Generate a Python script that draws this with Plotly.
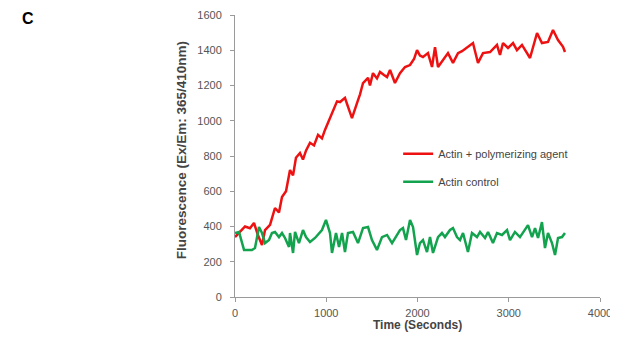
import plotly.graph_objects as go

# Actin + polymerizing agent (time in s, fluorescence)
red_t = [0, 55, 110, 164, 208, 252, 296, 329, 384, 438, 482, 515, 559, 603, 636, 668,
         712, 745, 778, 822, 866, 910, 953, 986, 1030, 1074, 1118, 1151, 1205, 1238,
         1282, 1337, 1370, 1403, 1458, 1479, 1512, 1556, 1589, 1633, 1666, 1699, 1753,
         1808, 1863, 1918, 1962, 1995, 2027, 2060, 2115, 2159, 2192, 2225, 2279, 2334,
         2389, 2444, 2488, 2542, 2608, 2663, 2718, 2795, 2871, 2904, 2937, 2992, 3047,
         3090, 3145, 3233, 3310, 3364, 3430, 3485, 3540, 3595, 3616]
red_v = [340, 370, 400, 390, 420, 350, 295, 380, 410, 505, 480, 567, 600, 720, 690, 790,
         817, 780, 830, 875, 860, 920, 900, 948, 1005, 1060, 1110, 1106, 1130, 1080,
         1015, 1100, 1150, 1214, 1243, 1200, 1270, 1240, 1277, 1260, 1248, 1288, 1214,
         1270, 1305, 1316, 1350, 1401, 1370, 1362, 1384, 1305, 1418, 1305, 1345, 1384,
         1328, 1384, 1395, 1418, 1441, 1328, 1384, 1390, 1430, 1373, 1441, 1413, 1441,
         1401, 1430, 1356, 1498, 1441, 1447, 1515, 1458, 1420, 1390]

# Actin control (time in s, fluorescence)
green_t = [0, 44, 99, 186, 219, 263, 296, 329, 373, 405, 438, 482, 515, 548, 592,
           603, 636, 658, 701, 745, 778, 822, 877, 953, 997, 1041, 1063, 1107, 1140, 1173,
           1205, 1238, 1293, 1348, 1403, 1458, 1501, 1556, 1611, 1666, 1721, 1775, 1808, 1841, 1874,
           1918, 1951, 1995, 2027, 2060, 2104, 2137, 2170, 2225, 2268, 2301, 2356, 2389, 2433, 2466,
           2499, 2553, 2597, 2652, 2685, 2740, 2773, 2827, 2871, 2926, 2981, 3014, 3068, 3123, 3178,
           3211, 3255, 3288, 3321, 3364, 3397, 3430, 3474, 3507, 3540, 3584, 3616]
green_v = [363, 369, 267, 267, 278, 397, 363, 306, 323, 363, 369, 340, 363, 335, 284,
           363, 250, 369, 306, 380, 340, 312, 335, 380, 437, 363, 250, 363, 284, 363,
           255, 363, 369, 306, 391, 397, 323, 267, 340, 352, 306, 352, 380, 391, 323,
           437, 397, 238, 306, 323, 255, 340, 250, 340, 363, 340, 380, 391, 340, 323,
           363, 255, 363, 340, 369, 335, 369, 306, 363, 352, 380, 323, 369, 340, 380,
           408, 340, 391, 335, 425, 278, 363, 306, 238, 335, 340, 363]

x_ticks = [0, 1000, 2000, 3000, 4000]
y_ticks = [0, 200, 400, 600, 800, 1000, 1200, 1400, 1600]

FONT = "Liberation Sans, Arial"

fig = go.Figure()
fig.add_trace(go.Scatter(x=red_t, y=red_v, mode="lines", name="Actin + polymerizing agent",
                         line=dict(color="#ee1111", width=2.5), legendgroup="a"))
fig.add_trace(go.Scatter(x=green_t, y=green_v, mode="lines", name="Actin control",
                         line=dict(color="#13a34e", width=2.5), legendgroup="b"))

axis_common = dict(showgrid=False, zeroline=False, showline=True, linecolor="#9a9a9a",
                   linewidth=1, ticks="outside", ticklen=4, tickcolor="#9a9a9a",
                   automargin=False,
                   tickfont=dict(family=FONT, size=11, color="#555555"))
fig.update_xaxes(range=[0, 4000], tickvals=x_ticks, ticklabelstandoff=2, **axis_common)
fig.update_yaxes(range=[0, 1600], tickvals=y_ticks, ticklabelstandoff=6, **axis_common)

fig.update_layout(
    width=610, height=325,
    margin=dict(l=227, r=18, t=7, b=36),
    plot_bgcolor="white", paper_bgcolor="white",
    showlegend=True,
    legend=dict(x=0.447, y=0.559, xanchor="left", yanchor="top", bgcolor="rgba(0,0,0,0)",
                font=dict(family=FONT, size=11, color="#444444"),
                tracegroupgap=9, itemwidth=30),
    annotations=[
        dict(text="<b>C</b>", xref="paper", yref="paper", x=-0.589, y=0.989, xanchor="left",
             yanchor="middle", showarrow=False,
             font=dict(family=FONT, size=16, color="black")),
        dict(text="<b>Fluorescence (Ex/Em: 365/410nm)</b>", xref="paper", yref="paper",
             x=-0.148, y=0.52, textangle=-90, showarrow=False, xanchor="center", yanchor="middle",
             font=dict(family=FONT, size=13.5, color="#444444")),
        dict(text="<b>Time (Seconds)</b>", xref="paper", yref="paper",
             x=0.5, y=-0.1, showarrow=False, xanchor="center", yanchor="middle",
             font=dict(family=FONT, size=12, color="#444444")),
    ],
)

fig.write_html("out.html")
